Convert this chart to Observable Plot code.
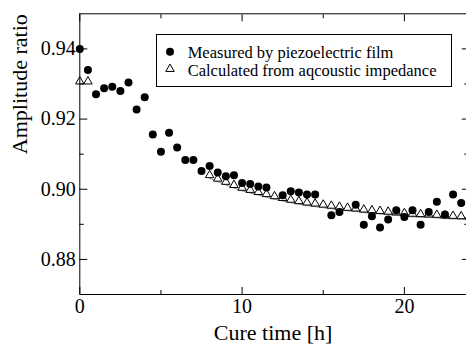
<!DOCTYPE html>
<html><head><meta charset="utf-8">
<script src="https://cdn.jsdelivr.net/npm/d3@7"></script>
<script src="https://cdn.jsdelivr.net/npm/@observablehq/plot@0.6"></script>
<style>
body{margin:0;background:#fff;}
#wrap{position:relative;width:466px;height:344px;overflow:hidden;font-family:"Liberation Serif","Times New Roman",serif;}
#legend{position:absolute;left:156px;top:34px;width:296px;height:53px;box-sizing:border-box;border:1px solid #000;background:#fff;}
</style></head><body><div id="wrap"></div>
<script>
// Measured by piezoelectric film
const measX = [0,0.5,1,1.5,2,2.5,3,3.5,4,4.5,5,5.5,6,6.5,7,7.5,8,8.5,9,9.5,10,10.5,11,11.5,12.5,13,13.5,14,14.5,15.5,16,17,17.5,18,18.5,19,19.5,20,20.5,21,21.5,22,22.5,23,23.5];
const measY = [0.9400,0.9340,0.9271,0.9288,0.9292,0.9280,0.9304,0.9227,0.9262,0.9156,0.9107,0.9161,0.9119,0.9083,0.9083,0.9052,0.9066,0.9048,0.9037,0.9040,0.9018,0.9015,0.9008,0.9005,0.8983,0.8994,0.8991,0.8985,0.8985,0.8926,0.8935,0.8956,0.8899,0.8923,0.8891,0.8914,0.8940,0.8921,0.8940,0.8899,0.8935,0.8964,0.8928,0.8985,0.8961];
// Calculated from acoustic impedance
const calcX = [0,0.5,8,8.5,9,9.5,10,10.5,11,11.5,12,12.5,13,13.5,14,14.5,15,15.5,16,16.5,17,17.5,18,18.5,19,19.5,20,20.5,21,21.5,22,22.5,23,23.5,24];
const calcY = [0.9307,0.9307,0.9040,0.9030,0.9021,0.9012,0.9004,0.8998,0.8992,0.8986,0.8980,0.8975,0.8970,0.8966,0.8962,0.8959,0.8956,0.8953,0.8950,0.8947,0.8945,0.8942,0.8940,0.8938,0.8936,0.8934,0.8932,0.8930,0.8929,0.8928,0.8927,0.8925,0.8924,0.8923,0.8922];

const xMajor = [0,10,20];
const xMinor = [5,15];
const xLabels = ["0","10","20"];
const yMajor = [0.88,0.90,0.92,0.94];
const yMinor = [0.89,0.91,0.93];
const yLabels = ["0.88","0.90","0.92","0.94"];
const xTitle = "Cure time [h]";
const yTitle = "Amplitude ratio";
const legendLabels = ["Measured by piezoelectric film","Calculated from aqcoustic impedance"];

const meas = measX.map((x,i)=>({x, y: measY[i]}));
const calc = calcX.map((x,i)=>({x, y: calcY[i]}));
const calcLine = calc.filter(d => d.x >= 8);

const triR = 3.15;
const chart = Plot.plot({
  width:466, height:344,
  marginLeft:79.3, marginRight:-2.8, marginTop:13.3, marginBottom:50,
  style:{fontFamily:"Liberation Serif", fontSize:"20px", background:"white", color:"black", overflow:"visible"},
  x:{domain:[0,24]},
  y:{domain:[0.87,0.95]},
  marks:[
    Plot.line(calcLine, {x:"x", y:"y", stroke:"#888", strokeWidth:1, dy:3}),
    Plot.dot(calc, {x:"x", y:"y", symbol:"triangle", r:triR, fill:"white", stroke:"black", strokeWidth:1}),
    Plot.dot(meas, {x:"x", y:"y", r:4, fill:"black"}),
    Plot.ruleX([0], {stroke:"black"}),
    Plot.ruleY([0.87], {stroke:"black"}),
    Plot.ruleY([0.95], {stroke:"black"}),
    Plot.axisX({anchor:"bottom", ticks:xMajor, tickSize:0, tickPadding:4, label:null, fontSize:20, tickFormat:(d,i)=>xLabels[i]}),
    Plot.axisX({anchor:"bottom", ticks:xMajor, tickSize:-7, label:null, tickFormat:()=>""}),
    Plot.axisX({anchor:"bottom", ticks:xMinor, tickSize:-4, label:null, tickFormat:()=>""}),
    Plot.axisX({anchor:"top", ticks:xMajor, tickSize:-7, label:null, tickFormat:()=>""}),
    Plot.axisX({anchor:"top", ticks:xMinor, tickSize:-4, label:null, tickFormat:()=>""}),
    Plot.axisY({anchor:"left", ticks:yMajor, tickSize:0, tickPadding:4, label:null, fontSize:20, tickFormat:(d,i)=>yLabels[i]}),
    Plot.axisY({anchor:"left", ticks:yMajor, tickSize:-8, label:null, tickFormat:()=>""}),
    Plot.axisY({anchor:"left", ticks:yMinor, tickSize:-4.5, label:null, tickFormat:()=>""}),
    Plot.axisY({anchor:"right", ticks:yMajor, tickSize:-8, label:null, tickFormat:()=>""}),
    Plot.axisY({anchor:"right", ticks:yMinor, tickSize:-5.5, label:null, tickFormat:()=>""}),
    Plot.text([yTitle], {frameAnchor:"left", text:d=>d, rotate:-90, dx:-60, fontSize:22, lineAnchor:"middle"}),
    Plot.text([xTitle], {frameAnchor:"bottom", text:d=>d, dx:-1.5, dy:38, fontSize:22, lineAnchor:"middle"})
  ]
});
const wrap = document.getElementById("wrap");
wrap.appendChild(chart);

// Legend box
const leg = document.createElement("div");
leg.id = "legend";
const ls = d3.create("svg").attr("width",294).attr("height",51).style("display","block")
  .style("font-family","Liberation Serif").style("font-size","16.5px");
ls.append("circle").attr("cx",13).attr("cy",16.7).attr("r",4).attr("fill","black");
ls.append("path").attr("d", d3.symbol(d3.symbolTriangle, Math.PI*triR*triR)())
  .attr("transform","translate(13,34)").attr("fill","white").attr("stroke","black");
ls.append("text").attr("x",30.7).attr("y",23.3).text(legendLabels[0]);
ls.append("text").attr("x",30.7).attr("y",41).text(legendLabels[1]);
leg.appendChild(ls.node());
wrap.appendChild(leg);
</script></body></html>
